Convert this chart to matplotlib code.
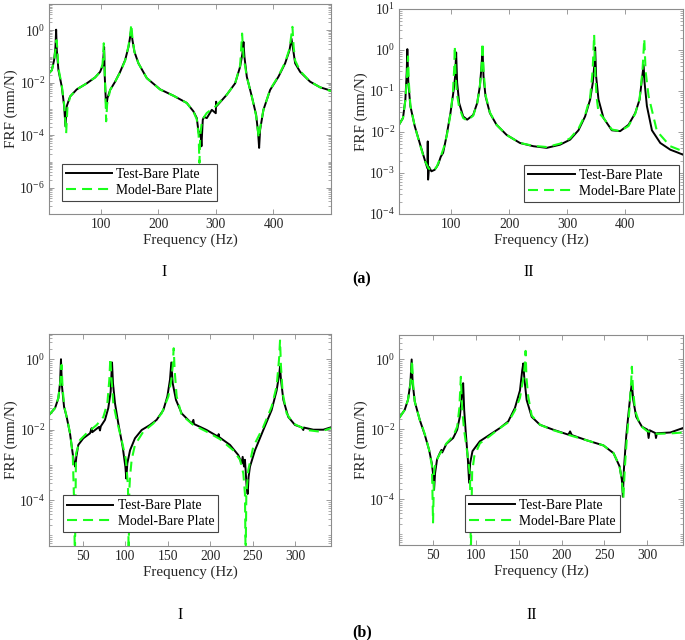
import matplotlib
matplotlib.use("Agg")
import matplotlib.pyplot as plt
import numpy as np
from matplotlib.ticker import LogLocator, NullFormatter

plt.rcParams["font.family"] = ["Liberation Serif", "DejaVu Serif"]
plt.rcParams["mathtext.fontset"] = "custom"
plt.rcParams["mathtext.rm"] = "Liberation Serif"

# ---- (a) I ----
a1_test_f = [10, 14.9, 18.9, 21.2, 22.4, 23.6, 26.4, 32.2, 36.3, 38.6, 40.9, 46.7, 58.3, 75.7, 90.2, 98.8,
             103.5, 105.8, 106.9, 109.3, 111.6, 116.2, 124.9, 133.6, 142.3, 148.1, 151, 152.7, 155, 158.5,
             165.4, 179.9, 203.1, 226.3, 249.4, 261, 266.8, 269.7, 271.4, 273.2, 274.9, 277.2, 279.5, 284.2,
             292.9, 299.8, 300.4, 301.5, 318.9, 333.4, 342.1, 346.1, 347.9, 349.6, 353.7, 362.4, 369.9, 373.4,
             375.1, 376.8, 382.6, 394.2, 408.7, 420.3, 427.8, 431.3, 433.6, 437.7, 446.4, 463.7, 481.1, 500]
a1_test_v = [0.023, 0.030, 0.073, 0.23, 1.05, 0.17, 0.030, 0.0071, 0.0013, 2.2e-4, 0.0013, 0.003, 0.0056,
             0.0095, 0.016, 0.026, 0.047, 0.23, 0.017, 0.0011, 0.0026, 0.0053, 0.011, 0.026, 0.073, 0.23, 0.56,
             1.05, 0.42, 0.15, 0.055, 0.015, 0.0056, 0.0032, 0.0017, 8.1e-4, 4.5e-4, 1.4e-4, 9.1e-5, 1.4e-4,
             3.8e-5, 3.9e-4, 5e-4, 4.5e-4, 9.3e-4, 6.9e-4, 0.0019, 0.0013, 0.0035, 0.0095, 0.041, 0.13, 0.36,
             0.098, 0.017, 0.003, 6e-4, 1.2e-4, 3.3e-5, 1.6e-4, 9.3e-4, 0.0053, 0.017, 0.055, 0.17, 0.48, 0.23,
             0.055, 0.026, 0.011, 0.0067, 0.005]
a1_model_f = [10, 14.9, 18.9, 21.5, 23.0, 24.5, 26.4, 32.2, 36.3, 39.8, 42, 46.7, 58.3, 75.7, 90.2, 98.8, 103,
              105.2, 106.5, 108, 109.3, 111, 116.2, 124.9, 133.6, 142.3, 148.1, 151.5, 153, 155, 158.5, 165.4,
              179.9, 203.1, 226.3, 249.4, 261, 266.8, 270, 271.4, 272.8, 276, 284, 300, 318.9, 333.4, 342.1,
              345.5, 348, 353.7, 362.4, 369.9, 374.5, 377, 382.6, 394.2, 408.7, 420.3, 428, 433, 435, 437.7,
              446.4, 463.7, 481.1, 500]
a1_model_v = [0.023, 0.030, 0.07, 0.2, 0.42, 0.2, 0.035, 0.008, 0.0015, 1.2e-4, 0.0011, 0.003, 0.0056, 0.0095,
              0.016, 0.026, 0.05, 0.32, 0.04, 0.004, 3.4e-4, 0.0015, 0.0053, 0.011, 0.025, 0.07, 0.25, 0.8, 1.7,
              0.5, 0.15, 0.055, 0.015, 0.0055, 0.0032, 0.0017, 8e-4, 4e-4, 1e-4, 8.9e-6, 1e-4, 3.8e-4, 7e-4,
              0.0013, 0.0035, 0.0095, 0.045, 0.75, 0.1, 0.017, 0.003, 5.5e-4, 7.9e-5, 2e-4, 9.3e-4, 0.0055,
              0.018, 0.06, 0.2, 1.35, 0.25, 0.07, 0.028, 0.011, 0.0067, 0.0048]

# ---- (a) II ----
a2_test_f = [10, 16.9, 21, 23.3, 24.4, 26.1, 29.6, 37.1, 45.7, 54.4, 59, 59.6, 60.2, 61.9, 65.9, 71.7, 77.4,
             82.1, 86.1, 91.9, 98.8, 104.5, 106.9, 108.6, 110.3, 113.8, 120.7, 127.6, 138, 144.9, 149.5, 152.4,
             154.1, 155.8, 159.3, 166.8, 178.3, 195.6, 218.7, 241.8, 264.8, 287.9, 305.2, 319.6, 331.1, 339.8,
             344.4, 347.3, 348.4, 350.1, 354.2, 362.8, 377.2, 391.6, 406, 417.6, 425.1, 429.1, 432, 433.7,
             437.7, 446.4, 460.8, 478.1, 489.7, 500]
a2_test_v = [0.015, 0.022, 0.062, 0.28, 1.05, 0.16, 0.043, 0.014, 0.0054, 0.0021, 0.0013, 0.0059, 6.9e-4,
             0.0014, 0.0011, 0.0012, 0.0016, 0.0025, 0.0031, 0.0078, 0.029, 0.11, 0.23, 0.87, 0.16, 0.051,
             0.024, 0.02, 0.026, 0.051, 0.13, 0.4, 1.05, 0.23, 0.074, 0.029, 0.015, 0.0085, 0.0054, 0.0045,
             0.0041, 0.0049, 0.0065, 0.011, 0.024, 0.062, 0.16, 0.48, 1.16, 0.23, 0.062, 0.022, 0.011, 0.0105,
             0.015, 0.029, 0.062, 0.19, 0.43, 0.16, 0.043, 0.011, 0.0054, 0.0037, 0.0032, 0.0028]
a2_model_f = [10, 16.9, 21, 23.5, 25.6, 27, 29.6, 37.1, 45.7, 54.4, 61, 68, 75, 82, 88, 93, 99, 103, 105.2,
              106.3, 107.5, 110.3, 113.8, 120.7, 127.6, 138, 144.9, 149.5, 152.5, 154.1, 156, 159.3, 166.8,
              178.3, 195.6, 218.7, 241.8, 264.8, 287.9, 305.2, 319.6, 331.1, 339.8, 344, 346.7, 348.5, 351,
              354.2, 362.8, 377.2, 391.6, 406, 417.6, 425.1, 430, 433.2, 435.5, 440.7, 455, 478, 500]
a2_model_v = [0.015, 0.022, 0.06, 0.2, 0.7, 0.16, 0.045, 0.014, 0.0052, 0.002, 0.0013, 0.0011, 0.0014, 0.0025,
              0.0045, 0.009, 0.028, 0.09, 0.35, 1.26, 0.25, 0.08, 0.04, 0.022, 0.019, 0.025, 0.05, 0.13, 0.4,
              1.5, 0.3, 0.08, 0.03, 0.015, 0.0085, 0.0054, 0.0046, 0.0043, 0.0052, 0.007, 0.012, 0.026, 0.07,
              0.3, 2.36, 0.3, 0.07, 0.03, 0.022, 0.0115, 0.0105, 0.014, 0.028, 0.065, 0.3, 1.86, 0.3, 0.074,
              0.0105, 0.0045, 0.0034]

# ---- (b) I ----
b1_test_f = [10, 17.1, 21, 23, 24.1, 25.3, 27.7, 30.8, 34.7, 37.9, 39.4, 41, 42.2, 44.5, 50.4, 58.3, 60.2, 61,
             64.2, 68.9, 70, 71, 75.9, 79.8, 82.6, 84.2, 85.3, 87.7, 91.6, 96.7, 99.9, 101, 102.2, 105.4, 111.2,
             119.1, 128.9, 136.7, 144.6, 149.3, 152.4, 154, 155.6, 159.5, 166.2, 178, 180, 180.7, 195.6, 209.3,
             209.7, 210.2, 223.1, 232.9, 236.8, 238, 239.6, 240.7, 242.7, 243.9, 245, 246.6, 252.5, 262.3,
             272.1, 278, 281.2, 282, 283.1, 285.9, 291.7, 299.6, 307.4, 309.4, 310, 321.2, 333, 342]
b1_test_v = [0.026, 0.041, 0.078, 0.21, 1.0, 0.17, 0.045, 0.023, 0.0079, 0.0021, 0.0012, 8.9e-4, 0.0017,
             0.0037, 0.0057, 0.0079, 0.011, 0.0085, 0.0098, 0.012, 0.0095, 0.0125, 0.019, 0.041, 0.12, 0.81,
             0.21, 0.056, 0.015, 0.0033, 8.9e-4, 4.1e-4, 0.0011, 0.0026, 0.0057, 0.0098, 0.0136, 0.019, 0.036,
             0.087, 0.26, 0.81, 0.21, 0.07, 0.029, 0.015, 0.019, 0.0145, 0.0098, 0.0063, 0.0075, 0.0062,
             0.0037, 0.0019, 0.0011, 0.0017, 9e-4, 0.0014, 2.4e-4, 1.5e-4, 4.6e-4, 8.9e-4, 0.0026, 0.0098,
             0.036, 0.13, 0.4, 0.62, 0.26, 0.07, 0.023, 0.0136, 0.0117, 0.0098, 0.0115, 0.010, 0.010, 0.0117]
b1_model_f = [10, 17.1, 21, 23.5, 24.8, 26, 28, 31, 35, 38, 39.4, 40.5, 41.8, 46.5, 54.3, 66.1, 74, 78.7, 81,
              82.2, 83.4, 85.7, 89.7, 95.5, 100.6, 103, 103.8, 104.6, 105.4, 107.3, 111.2, 121, 132.8, 142.6,
              150.5, 154, 155.6, 156.8, 157.9, 160.3, 166.2, 180, 195.6, 211.3, 227, 234.9, 238.8, 240.7, 241.5,
              242.3, 244.6, 250.5, 262.3, 272.1, 278, 280.8, 282, 283.1, 285.1, 289.8, 297.6, 313.3, 329, 342]
b1_model_v = [0.026, 0.041, 0.08, 0.25, 0.69, 0.15, 0.045, 0.022, 0.0075, 0.0018, 1.2e-4, 2e-6, 0.0021, 0.0051,
              0.0079, 0.0136, 0.023, 0.056, 0.26, 1.07, 0.32, 0.056, 0.019, 0.0051, 0.0014, 2.4e-4, 2e-6, 2e-4,
              4.6e-4, 0.0014, 0.0037, 0.0088, 0.015, 0.029, 0.087, 0.26, 0.62, 2.05, 0.5, 0.087, 0.026, 0.0136,
              0.0088, 0.0054, 0.0026, 0.0014, 5.7e-4, 1.5e-4, 2e-6, 1.5e-4, 7.1e-4, 0.0033, 0.012, 0.045, 0.17,
              0.98, 3.4, 0.62, 0.11, 0.029, 0.015, 0.0098, 0.0088, 0.011]

# ---- (b) II ----
b2_test_f = [10, 16.6, 20.5, 23.3, 24.8, 26, 28.4, 34.2, 40.1, 45.2, 48.3, 50.2, 51, 52.2, 54.5, 57.7, 59.6,
             60.5, 65.5, 73.3, 78, 81.1, 83.4, 85, 86.2, 88.1, 90.5, 92, 93.2, 95.9, 104.5, 116.2, 128, 137.7,
             145.5, 151.4, 154.1, 155.3, 156.5, 159.2, 165.1, 174.8, 190.5, 208, 210, 212, 229.5, 249, 260.8,
             267.8, 270.5, 271.7, 272.9, 275.6, 278.7, 280.7, 282.2, 283.8, 287.3, 294, 300.6, 301.8, 303,
             309.6, 310.4, 311.5, 327.2, 342]
b2_test_v = [0.021, 0.036, 0.07, 0.21, 1.0, 0.21, 0.063, 0.019, 0.0071, 0.0026, 0.0011, 4.6e-4, 1.9e-4,
             5.7e-4, 0.0014, 0.0021, 0.0026, 0.0022, 0.0039, 0.0057, 0.0098, 0.023, 0.087, 0.21, 0.036, 0.0079,
             0.0014, 3e-4, 0.0011, 0.0024, 0.0046, 0.0071, 0.011, 0.017, 0.041, 0.13, 0.5, 0.77, 0.29, 0.07,
             0.023, 0.0136, 0.0098, 0.0071, 0.0088, 0.0069, 0.0049, 0.0035, 0.0021, 8.9e-4, 3.7e-4, 1.2e-4,
             7.1e-4, 0.0063, 0.036, 0.11, 0.21, 0.07, 0.023, 0.012, 0.0098, 0.0057, 0.0095, 0.0079, 0.0057,
             0.0078, 0.0082, 0.011]
b2_model_f = [10, 16.6, 20.5, 23.5, 25.2, 26.5, 28.4, 34.2, 40.1, 45.2, 48.5, 49.8, 51, 53, 57.7, 65.5, 73.3,
              78, 80.5, 82.3, 83.5, 86, 90, 93, 94, 95.5, 98, 104.5, 116.2, 128, 137.7, 145.5, 151.4, 155.5,
              157.3, 158, 159, 161, 165.1, 174.8, 190.5, 208, 229.5, 249, 260.8, 267.8, 270.5, 272.3, 274,
              276.4, 279.5, 281.5, 282.2, 283.5, 286, 292, 300, 311.5, 327, 342]
b2_model_v = [0.021, 0.036, 0.07, 0.2, 0.95, 0.2, 0.063, 0.019, 0.0075, 0.0026, 9e-4, 2.2e-5, 6e-4, 0.0012,
              0.002, 0.004, 0.0065, 0.012, 0.04, 0.32, 0.05, 0.01, 0.002, 5e-4, 3e-6, 6e-4, 0.0017, 0.004,
              0.0065, 0.011, 0.016, 0.035, 0.08, 0.3, 0.8, 1.76, 0.3, 0.09, 0.025, 0.0136, 0.0095, 0.007,
              0.0049, 0.0035, 0.0021, 9e-4, 3.5e-4, 1.1e-4, 8e-4, 0.006, 0.04, 0.25, 0.62, 0.15, 0.035, 0.013,
              0.009, 0.0075, 0.0077, 0.0082]

W, H = 685, 640
fig = plt.figure(figsize=(W / 100, H / 100), dpi=100)


def px_axes(l, r, t, b):
    return fig.add_axes([l / W, 1 - b / H, (r - l) / W, (b - t) / H])


GREEN = "#1aff1a"
FRAME = "#8c8c8c"


def panel(rect, tf, tv, mf, mv, xlim, ylim, yticks, xticks, leg_loc, leg_anchor):
    ax = px_axes(*rect)
    ax.plot(tf, tv, color="black", lw=1.4, label="Test-Bare Plate")
    ax.plot(mf, mv, color=GREEN, lw=1.5, dashes=(4.8, 2.9), label="Model-Bare Plate")
    ax.set_yscale("log")
    ax.set_xlim(*xlim)
    ax.set_ylim(*ylim)
    ax.set_yticks(yticks)
    ax.yaxis.set_minor_locator(LogLocator(base=10, subs=np.arange(1, 10), numticks=40))
    ax.yaxis.set_minor_formatter(NullFormatter())
    ax.set_xticks(xticks)
    ax.tick_params(which="both", direction="in", top=True, right=True, colors="#262626",
                   labelsize=9.8, pad=3)
    ax.tick_params(which="major", length=3.5, width=0.6, color=FRAME)
    ax.tick_params(which="minor", length=2, width=0.5, color=FRAME)
    for s in ax.spines.values():
        s.set_color(FRAME)
        s.set_linewidth(0.8)
    ax.set_xlabel("Frequency (Hz)", fontsize=10.8, color="#262626", labelpad=2)
    ax.set_ylabel("FRF (mm/N)", fontsize=10.8, color="#262626", labelpad=1)
    leg = ax.legend(loc=leg_loc, bbox_to_anchor=leg_anchor, fontsize=9.8, frameon=True, fancybox=False,
                    framealpha=1, edgecolor="#444444", borderaxespad=0, handlelength=3.4,
                    handletextpad=0.3, borderpad=0.3, labelspacing=0.2)
    leg.get_frame().set_linewidth(0.8)
    return ax


panel((49, 331, 4, 214), a1_test_f, a1_test_v, a1_model_f, a1_model_v, (10, 500), (1e-7, 1e1),
      [1e-6, 1e-4, 1e-2, 1e0], [100, 200, 300, 400], "lower left", (0.045, 0.062))
panel((399, 683, 9, 214), a2_test_f, a2_test_v, a2_model_f, a2_model_v, (10, 500), (1e-4, 1e1),
      [1e-4, 1e-3, 1e-2, 1e-1, 1e0, 1e1], [100, 200, 300, 400], "lower right", (0.987, 0.059))
panel((49, 331, 334, 546), b1_test_f, b1_test_v, b1_model_f, b1_model_v, (10, 342), (5e-6, 5.2),
      [1e-4, 1e-2, 1e0], [50, 100, 150, 200, 250, 300], "lower left", (0.05, 0.065))
panel((399, 683, 335, 545), b2_test_f, b2_test_v, b2_model_f, b2_model_v, (10, 342), (5e-6, 5.0),
      [1e-4, 1e-2, 1e0], [50, 100, 150, 200, 250, 300], "lower left", (0.232, 0.062))

# sub-panel captions
fig.text(164 / W, 1 - 272 / H, "I", ha="center", va="center", fontsize=11.5)
fig.text(529 / W, 1 - 272 / H, "II", ha="center", va="center", fontsize=11.5)
fig.text(362 / W, 1 - 279 / H, "(a)", ha="center", va="center", fontsize=11.5, fontweight="bold")
fig.text(180 / W, 1 - 615 / H, "I", ha="center", va="center", fontsize=11.5)
fig.text(532 / W, 1 - 615 / H, "II", ha="center", va="center", fontsize=11.5)
fig.text(362 / W, 1 - 632 / H, "(b)", ha="center", va="center", fontsize=11.5, fontweight="bold")

fig.savefig("out.png", dpi=100, facecolor="white")
